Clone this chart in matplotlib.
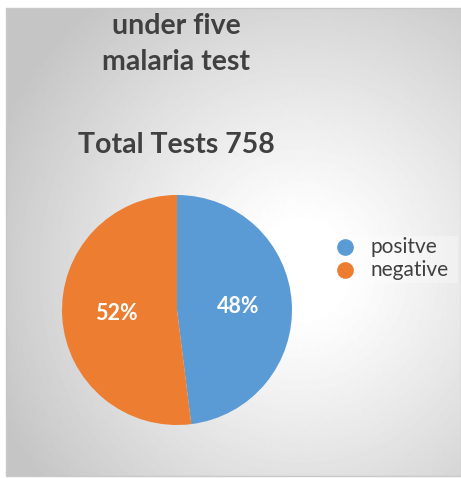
import matplotlib.pyplot as plt
import numpy as np

LABELS = ["positve", "negative"]
COUNTS = [364, 394]
COLORS = ["#5B9BD5", "#ED7D31"]
TITLE_LINES = ["under five", "malaria test", "Total Tests 758"]
TITLE_Y = [26, 62, 145]

W, H = 461, 478
fig = plt.figure(figsize=(W / 100, H / 100), dpi=100)
fig.patch.set_facecolor("white")

# chart area with radial grey gradient
x0, y0, x1, y1 = 6, 8, 461, 476
bg = fig.add_axes([x0 / W, 1 - y1 / H, (x1 - x0) / W, (y1 - y0) / H])
yy, xx = np.mgrid[y0:y1, x0:x1]
d = np.sqrt(((xx - 300) / 290.0) ** 2 + ((yy - 270) / 300.0) ** 2)
val = np.clip(1.0 - 0.23 * np.clip(d - 0.15, 0, None) ** 1.1, 0.77, 1.0)
bg.imshow(val, cmap="gray", vmin=0, vmax=1, aspect="auto",
          extent=[0, 1, 0, 1], origin="upper")
bg.set_axis_off()
fig.patches.append(plt.Rectangle((x0 / W, 1 - y1 / H), (x1 - x0) / W, (y1 - y0) / H,
                                 transform=fig.transFigure, fill=False,
                                 edgecolor="#c8c8c8", linewidth=1.0))

# pie
cx, cy, r = 177, 310, 115
ax = fig.add_axes([(cx - r) / W, 1 - (cy + r) / H, 2 * r / W, 2 * r / H])
wedges, texts = ax.pie(COUNTS, colors=COLORS, startangle=90, counterclock=False,
                       radius=1.0, wedgeprops=dict(linewidth=0))
ax.set_xlim(-1, 1)
ax.set_ylim(-1, 1)
ax.set_aspect("equal")
total = sum(COUNTS)
for w, c in zip(wedges, COUNTS):
    ang = np.deg2rad((w.theta1 + w.theta2) / 2)
    ax.text(0.53 * np.cos(ang), 0.53 * np.sin(ang), f"{c / total:.0%}",
            ha="center", va="center", color="white", fontsize=15.5,
            fontweight="bold", family="Lato")

# title
for line, yp in zip(TITLE_LINES, TITLE_Y):
    fig.text(176 / W, 1 - yp / H, line, ha="center", va="center", fontsize=20.5,
             fontweight="bold", color="#404040", family="Lato")

# legend
fig.patches.append(plt.Rectangle((328 / W, 1 - 283 / H), 130 / W, 47 / H,
                                 transform=fig.transFigure, facecolor="white",
                                 edgecolor="none", alpha=0.3))
for i, (lab, col) in enumerate(zip(LABELS, COLORS)):
    yp = 1 - (247 + 23 * i) / H
    fig.lines.append(plt.Line2D([345 / W], [yp], marker="o", markersize=11,
                                color=col, transform=fig.transFigure))
    fig.text(370 / W, yp, lab, ha="left", va="center", fontsize=15,
             color="#404040", family="Lato")

fig.savefig("out.png", dpi=100, facecolor="white")
